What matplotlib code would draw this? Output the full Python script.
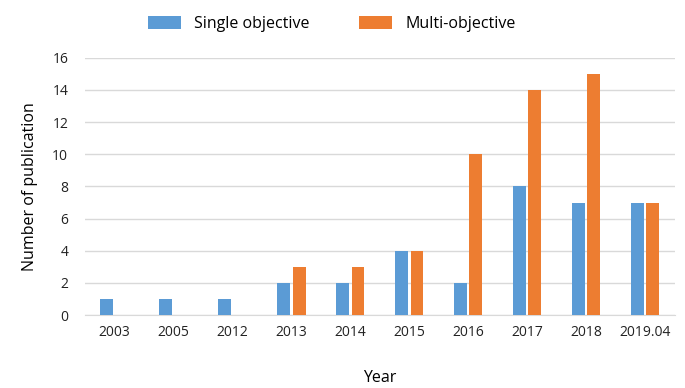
import numpy as np
import matplotlib
matplotlib.use('Agg')
import matplotlib.pyplot as plt

years = ['2003', '2005', '2012', '2013', '2014', '2015', '2016', '2017', '2018', '2019.04']
single = [1, 1, 1, 2, 2, 4, 2, 8, 7, 7]
multi = [0, 0, 0, 3, 3, 4, 10, 14, 15, 7]

plt.rcParams['font.family'] = ['Open Sans', 'DejaVu Sans']

fig = plt.figure(figsize=(6.85, 3.88), dpi=100)
ax = fig.add_axes([0.124, 0.188, 0.861, 0.663])

x = np.arange(len(years))
w = 0.22
ax.bar(x - 0.13, single, w, color='#5B9BD5', label='Single objective', zorder=3)
ax.bar(x + 0.13, multi, w, color='#ED7D31', label='Multi-objective', zorder=3)

ax.set_xlim(-0.5, len(years) - 0.5)
ax.set_ylim(0, 16)
ax.set_yticks(range(0, 17, 2))
ax.set_xticks(x)
ax.set_xticklabels(years)
ax.tick_params(length=0, labelsize=10, colors='#222222', pad=7)
ax.tick_params(axis='y', pad=12)
ax.grid(axis='y', color='#D9D9D9', linewidth=1, zorder=0)
for s in ['top', 'right', 'left']:
    ax.spines[s].set_visible(False)
ax.spines['bottom'].set_color('#D9D9D9')

ax.set_xlabel('Year', fontsize=11.5, labelpad=22)
ax.set_ylabel('Number of publication', fontsize=11.5, labelpad=10)

fig.legend(loc='center', bbox_to_anchor=(0.484, 0.938), ncol=2, frameon=False,
           fontsize=11.5, handlelength=2.1, handleheight=0.9, handletextpad=0.8,
           columnspacing=3.1)

fig.savefig('out.png', dpi=100)
